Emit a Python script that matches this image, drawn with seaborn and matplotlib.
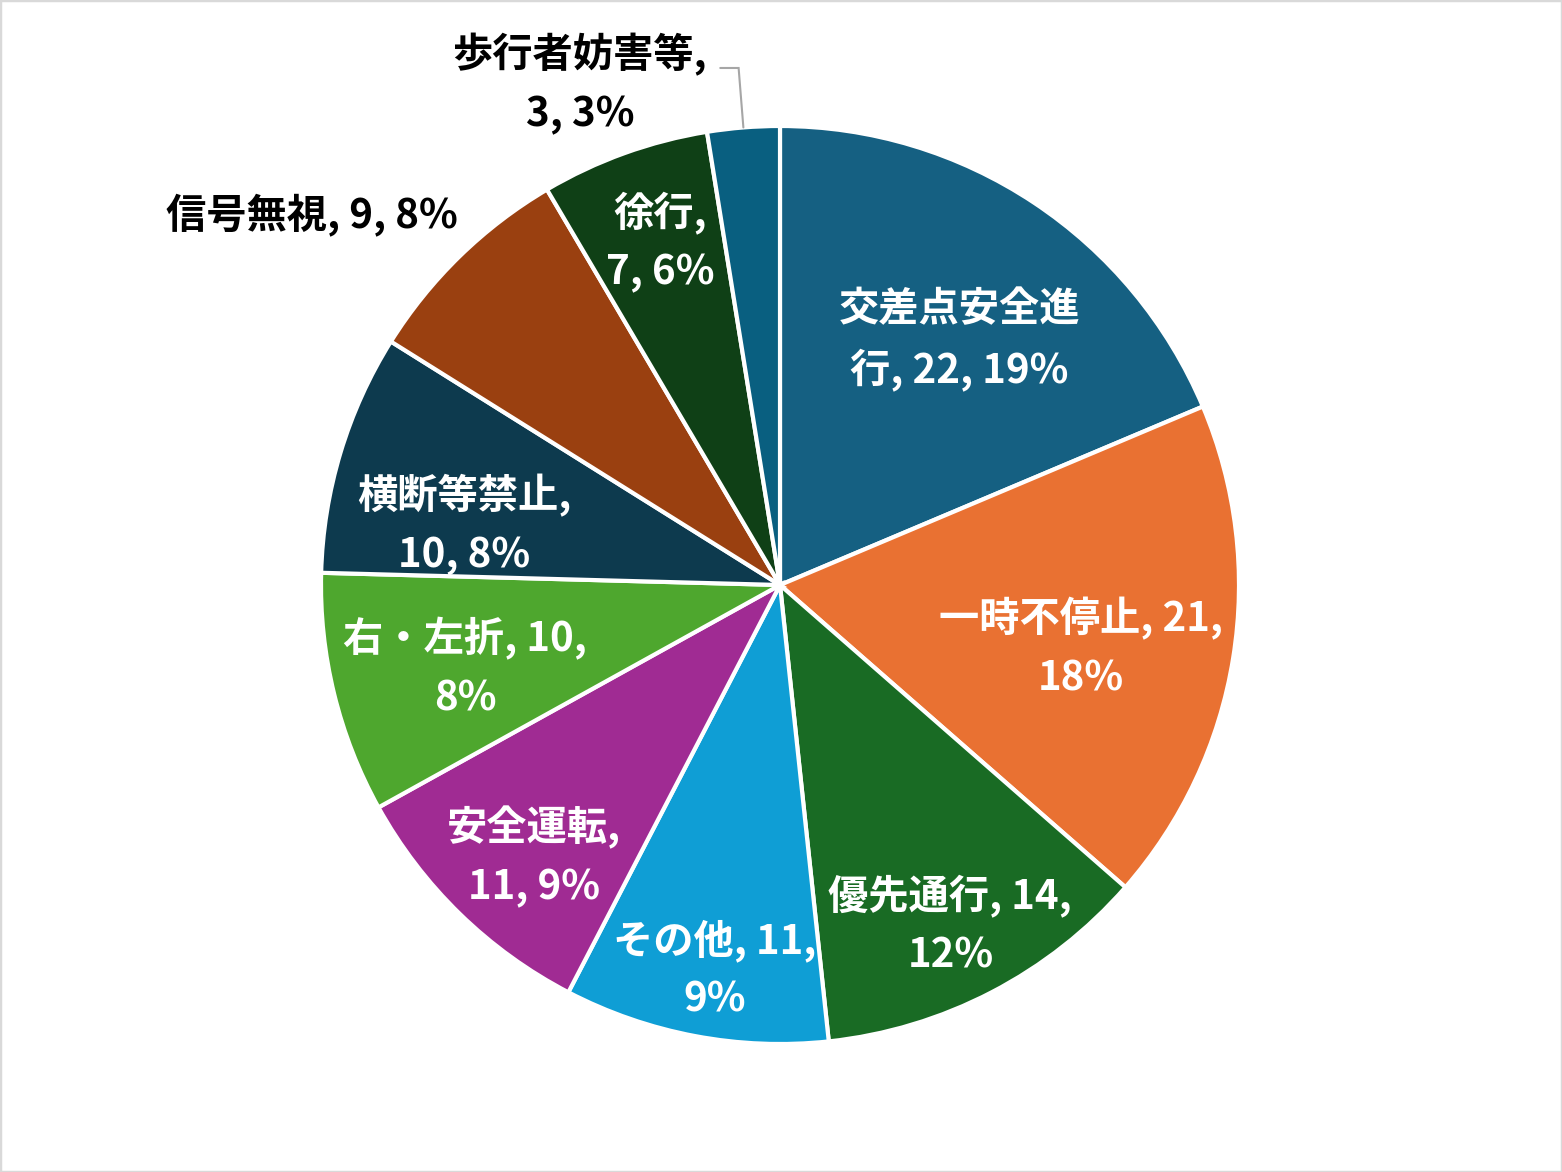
import numpy as np
import matplotlib
matplotlib.use("Agg")
import matplotlib.pyplot as plt
import seaborn as sns
from matplotlib.patches import Rectangle

# ---------------------------------------------------------------------------
# Data
# ---------------------------------------------------------------------------
categories = ["交差点安全進行", "一時不停止", "優先通行", "その他", "安全運転",
              "右・左折", "横断等禁止", "信号無視", "徐行", "歩行者妨害等"]
counts = [22, 21, 14, 11, 11, 10, 10, 9, 7, 3]

# ---------------------------------------------------------------------------
# Style
# ---------------------------------------------------------------------------
COLORS = ["#156082", "#E97132", "#196B24", "#0F9ED5", "#A02B93",
          "#4EA72E", "#0D3A4E", "#9A4010", "#0F4016", "#095F80"]
# where each label wraps (char index in the full label, None = one line)
WRAP_AT = [6, 10, 9, 8, 5, 9, 6, None, 3, 7]
# label placement: (radius fraction, clockwise offset from wedge middle, deg)
LABEL_POS = [(0.66, 2.7), (0.67, 2.7), (0.83, 0.9), (0.85, -1.1), (0.80, -2.1),
             (0.71, -1.1), (0.70, -6.0), (1.30, -7.5), (0.79, 0.5), (1.175, -17.2)]
OUTSIDE = {"信号無視", "歩行者妨害等"}
FONT_SIZE = 29

W, H, DPI = 1562, 1172, 100
CX, CY, R = 780, 585, 459  # pie centre / radius in pixels

sns.set_theme(style="white")
plt.rcParams["font.family"] = ["Noto Sans CJK JP", "DejaVu Sans"]


def make_label(cat, n, total, wrap):
    pct = int(round(n / total * 100))
    s = f"{cat}, {n}, {pct}%"
    if wrap is None:
        return s
    return s[:wrap].rstrip() + "\n" + s[wrap:].lstrip()


fig = plt.figure(figsize=(W / DPI, H / DPI), dpi=DPI)
ax = fig.add_axes([0, 0, 1, 1])

palette = sns.color_palette(COLORS)
wedges, _ = ax.pie(
    counts,
    colors=palette,
    startangle=90,
    counterclock=False,
    radius=1.0,
    wedgeprops=dict(edgecolor="white", linewidth=3),
)
ax.set_xlim(-CX / R, (W - CX) / R)
ax.set_ylim(-(H - CY) / R, CY / R)
ax.set_aspect("auto")
ax.axis("off")

total = sum(counts)
for w, cat, n, wrap, (rr, dth) in zip(wedges, categories, counts, WRAP_AT, LABEL_POS):
    mid = (w.theta1 + w.theta2) / 2.0
    ang = np.deg2rad(mid - dth)
    color = "black" if cat in OUTSIDE else "white"
    ax.text(rr * np.cos(ang), rr * np.sin(ang), make_label(cat, n, total, wrap),
            ha="center", va="center", color=color, fontsize=FONT_SIZE,
            fontweight="bold", linespacing=1.55)
    if cat == "歩行者妨害等":
        m = np.deg2rad(mid)
        x0, y0 = np.cos(m), np.sin(m)
        x1, y1 = 1.13 * np.cos(m), 1.13 * np.sin(m)
        ax.plot([x0, x1, x1 - 0.04], [y0, y1, y1], color="#A6A6A6", lw=1.5,
                solid_joinstyle="miter")

fig.patches.append(Rectangle((0, 0), 1, 1, transform=fig.transFigure,
                             fill=False, edgecolor="#D9D9D9", linewidth=2.5))

fig.savefig("out.png", dpi=DPI, facecolor="white")
